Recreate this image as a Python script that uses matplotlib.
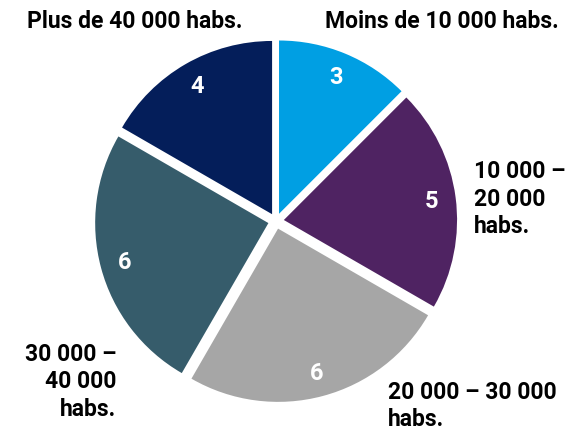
import matplotlib.pyplot as plt
import numpy as np

# data
labels = ['Moins de 10 000 habs.', '10 000 –\n20 000\nhabs.', '20 000 – 30 000\nhabs.',
          '30 000 –\n40 000\nhabs.', 'Plus de 40 000 habs.']
values = [3, 5, 6, 6, 4]
colors = ['#009FE3', '#4F2362', '#A6A6A6', '#365C6B', '#041E5A']

plt.rcParams['font.family'] = ['Roboto', 'DejaVu Sans']

fig = plt.figure(figsize=(5.69, 4.35), dpi=100)
ax = fig.add_axes([0.1468, 0.0471, 0.6766, 0.885])

wedges, texts, autotexts = ax.pie(values, colors=colors, startangle=90, counterclock=False,
                                  explode=[0.045]*len(values), autopct=lambda p: '%d' % round(p*sum(values)/100),
                                  pctdistance=0.86, radius=0.99, wedgeprops=dict(linewidth=0),
                                  textprops=dict(color='white', fontsize=17, fontweight='bold'))

# outer labels
pos = [(0.949, 1.145, 'center'), (1.131, 0.131, 'left'), (0.64, -1.051, 'left'),
       (-0.914, -0.914, 'right'), (-0.806, 1.145, 'center')]
for lab, (x, y, ha) in zip(labels, pos):
    ax.text(x, y, lab, ha=ha, va='center', fontsize=16.5, fontweight='bold', color='black',
            multialignment=ha if ha != 'center' else 'center', linespacing=1.25)

ax.set_xlim(-1.1, 1.1)
ax.set_ylim(-1.1, 1.1)
ax.set_aspect('equal')
ax.axis('off')

fig.savefig('out.png', dpi=100)
